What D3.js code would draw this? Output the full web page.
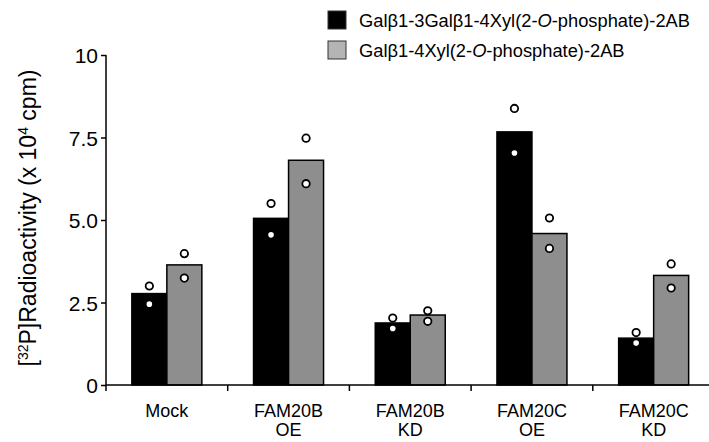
<!DOCTYPE html>
<html>
<head>
<meta charset="utf-8">
<script src="https://cdn.jsdelivr.net/npm/d3@7"></script>
<style>
  body { margin: 0; background: #fff; }
  text { font-family: "Liberation Sans", Arial, sans-serif; fill: #000; }
</style>
</head>
<body>
<script>
const categories = ["Mock", "FAM20B\nOE", "FAM20B\nKD", "FAM20C\nOE", "FAM20C\nKD"];
const seriesNames = ["Galβ1-3Galβ1-4Xyl(2-O-phosphate)-2AB", "Galβ1-4Xyl(2-O-phosphate)-2AB"];
const triMeans = [2.77, 5.05, 1.88, 7.67, 1.42];
const diMeans = [3.64, 6.81, 2.12, 4.59, 3.32];
const triPoints = [[3.0, 2.45], [5.5, 4.55], [2.03, 1.71], [8.38, 7.03], [1.59, 1.27]];
const diPoints = [[3.98, 3.24], [7.48, 6.1], [2.25, 1.93], [5.06, 4.14], [3.67, 2.94]];
const yTicks = [0, 2.5, 5, 7.5, 10];
const yTickLabels = ["0", "2.5", "5.0", "7.5", "10"];

const width = 709, height = 442;
const barColors = ["#000000", "#8e8e8e"];
const legendColors = ["#000000", "#b4b4b4"];

const svg = d3.select("body").append("svg")
    .attr("width", width)
    .attr("height", height);

const x0 = d3.scaleBand()
    .domain(categories)
    .range([106, 714.5])
    .padding(0);

const x1 = d3.scaleBand()
    .domain([0, 1])
    .range([x0.bandwidth() / 2 - 35, x0.bandwidth() / 2 + 35]);

const y = d3.scaleLinear()
    .domain([0, 10])
    .range([385, 55]);

// bars
const series = [triMeans, diMeans];
const points = [triPoints, diPoints];

series.forEach((vals, s) => {
    svg.append("g").selectAll("rect")
        .data(vals)
        .join("rect")
        .attr("x", (d, i) => x0(categories[i]) + x1(s))
        .attr("y", d => y(d))
        .attr("width", x1.bandwidth())
        .attr("height", d => y(0) - y(d))
        .style("fill", barColors[s])
        .style("stroke", "#000")
        .style("stroke-width", 1.5);
});

// individual data points
points.forEach((grp, s) => {
    grp.forEach((pts, i) => {
        svg.append("g").selectAll("circle")
            .data(pts)
            .join("circle")
            .attr("cx", x0(categories[i]) + x1(s) + x1.bandwidth() / 2)
            .attr("cy", d => y(d))
            .attr("r", 3.7)
            .style("fill", "#fff")
            .style("stroke", "#000")
            .style("stroke-width", 1.8);
    });
});

// y axis
const yAxis = svg.append("g")
    .attr("transform", "translate(106,0)")
    .call(d3.axisLeft(y).tickValues(yTicks).tickSize(5).tickPadding(3)
        .tickFormat((d, i) => yTickLabels[i]));
yAxis.select(".domain").attr("stroke-width", 1.5).attr("d", "M0," + y(10) + "V" + y(0));
yAxis.selectAll(".tick line").attr("stroke-width", 1.5);
yAxis.selectAll("text")
    .style("font-size", "21px")
    .style("font-family", "'Liberation Sans', Arial, sans-serif")
    .attr("dy", "0.36em");

// x axis
const xAxis = svg.append("g")
    .attr("transform", "translate(0," + y(0) + ")");
xAxis.append("line")
    .attr("x1", 106).attr("x2", width)
    .attr("stroke", "#000").attr("stroke-width", 1.5);
xAxis.selectAll("line.tk")
    .data(categories)
    .join("line")
    .attr("class", "tk")
    .attr("x1", d => x0(d)).attr("x2", d => x0(d))
    .attr("y1", 0).attr("y2", 6)
    .attr("stroke", "#000").attr("stroke-width", 1.5);

const xl = xAxis.selectAll("text.cat")
    .data(categories)
    .join("text")
    .attr("class", "cat")
    .attr("text-anchor", "middle")
    .style("font-size", "18px")
    .attr("transform", d => "translate(" + (x0(d) + x0.bandwidth() / 2) + ",32)");
xl.each(function (d) {
    d.split("\n").forEach((line, k) => {
        d3.select(this).append("tspan")
            .attr("x", 0)
            .attr("dy", k === 0 ? 0 : "1.05em")
            .text(line);
    });
});

// y axis title
const yt = svg.append("text")
    .attr("transform", "translate(36,218) rotate(-90)")
    .attr("text-anchor", "middle")
    .style("font-size", "23px");
yt.append("tspan").text("[");
yt.append("tspan").text("32").style("font-size", "14px").attr("dy", "-0.6em");
yt.append("tspan").text("P]Radioactivity (x 10").attr("dy", "0.37em");
yt.append("tspan").text("4").style("font-size", "14px").attr("dy", "-0.6em");
yt.append("tspan").text(" cpm)").attr("dy", "0.37em");

// legend
const legend = svg.append("g").attr("transform", "translate(328,11)");
seriesNames.forEach((name, i) => {
    const row = legend.append("g").attr("transform", "translate(0," + i * 30 + ")");
    row.append("rect")
        .attr("width", 18).attr("height", 18)
        .style("fill", legendColors[i])
        .style("stroke", "#333")
        .style("stroke-width", 1);
    const t = row.append("text")
        .attr("x", 31).attr("y", 9).attr("dy", "0.36em")
        .style("font-size", "18.3px");
    const parts = name.split("O-");
    t.append("tspan").text(parts[0]);
    t.append("tspan").text("O").style("font-style", "italic");
    t.append("tspan").text("-" + parts[1]);
});
</script>
</body>
</html>
